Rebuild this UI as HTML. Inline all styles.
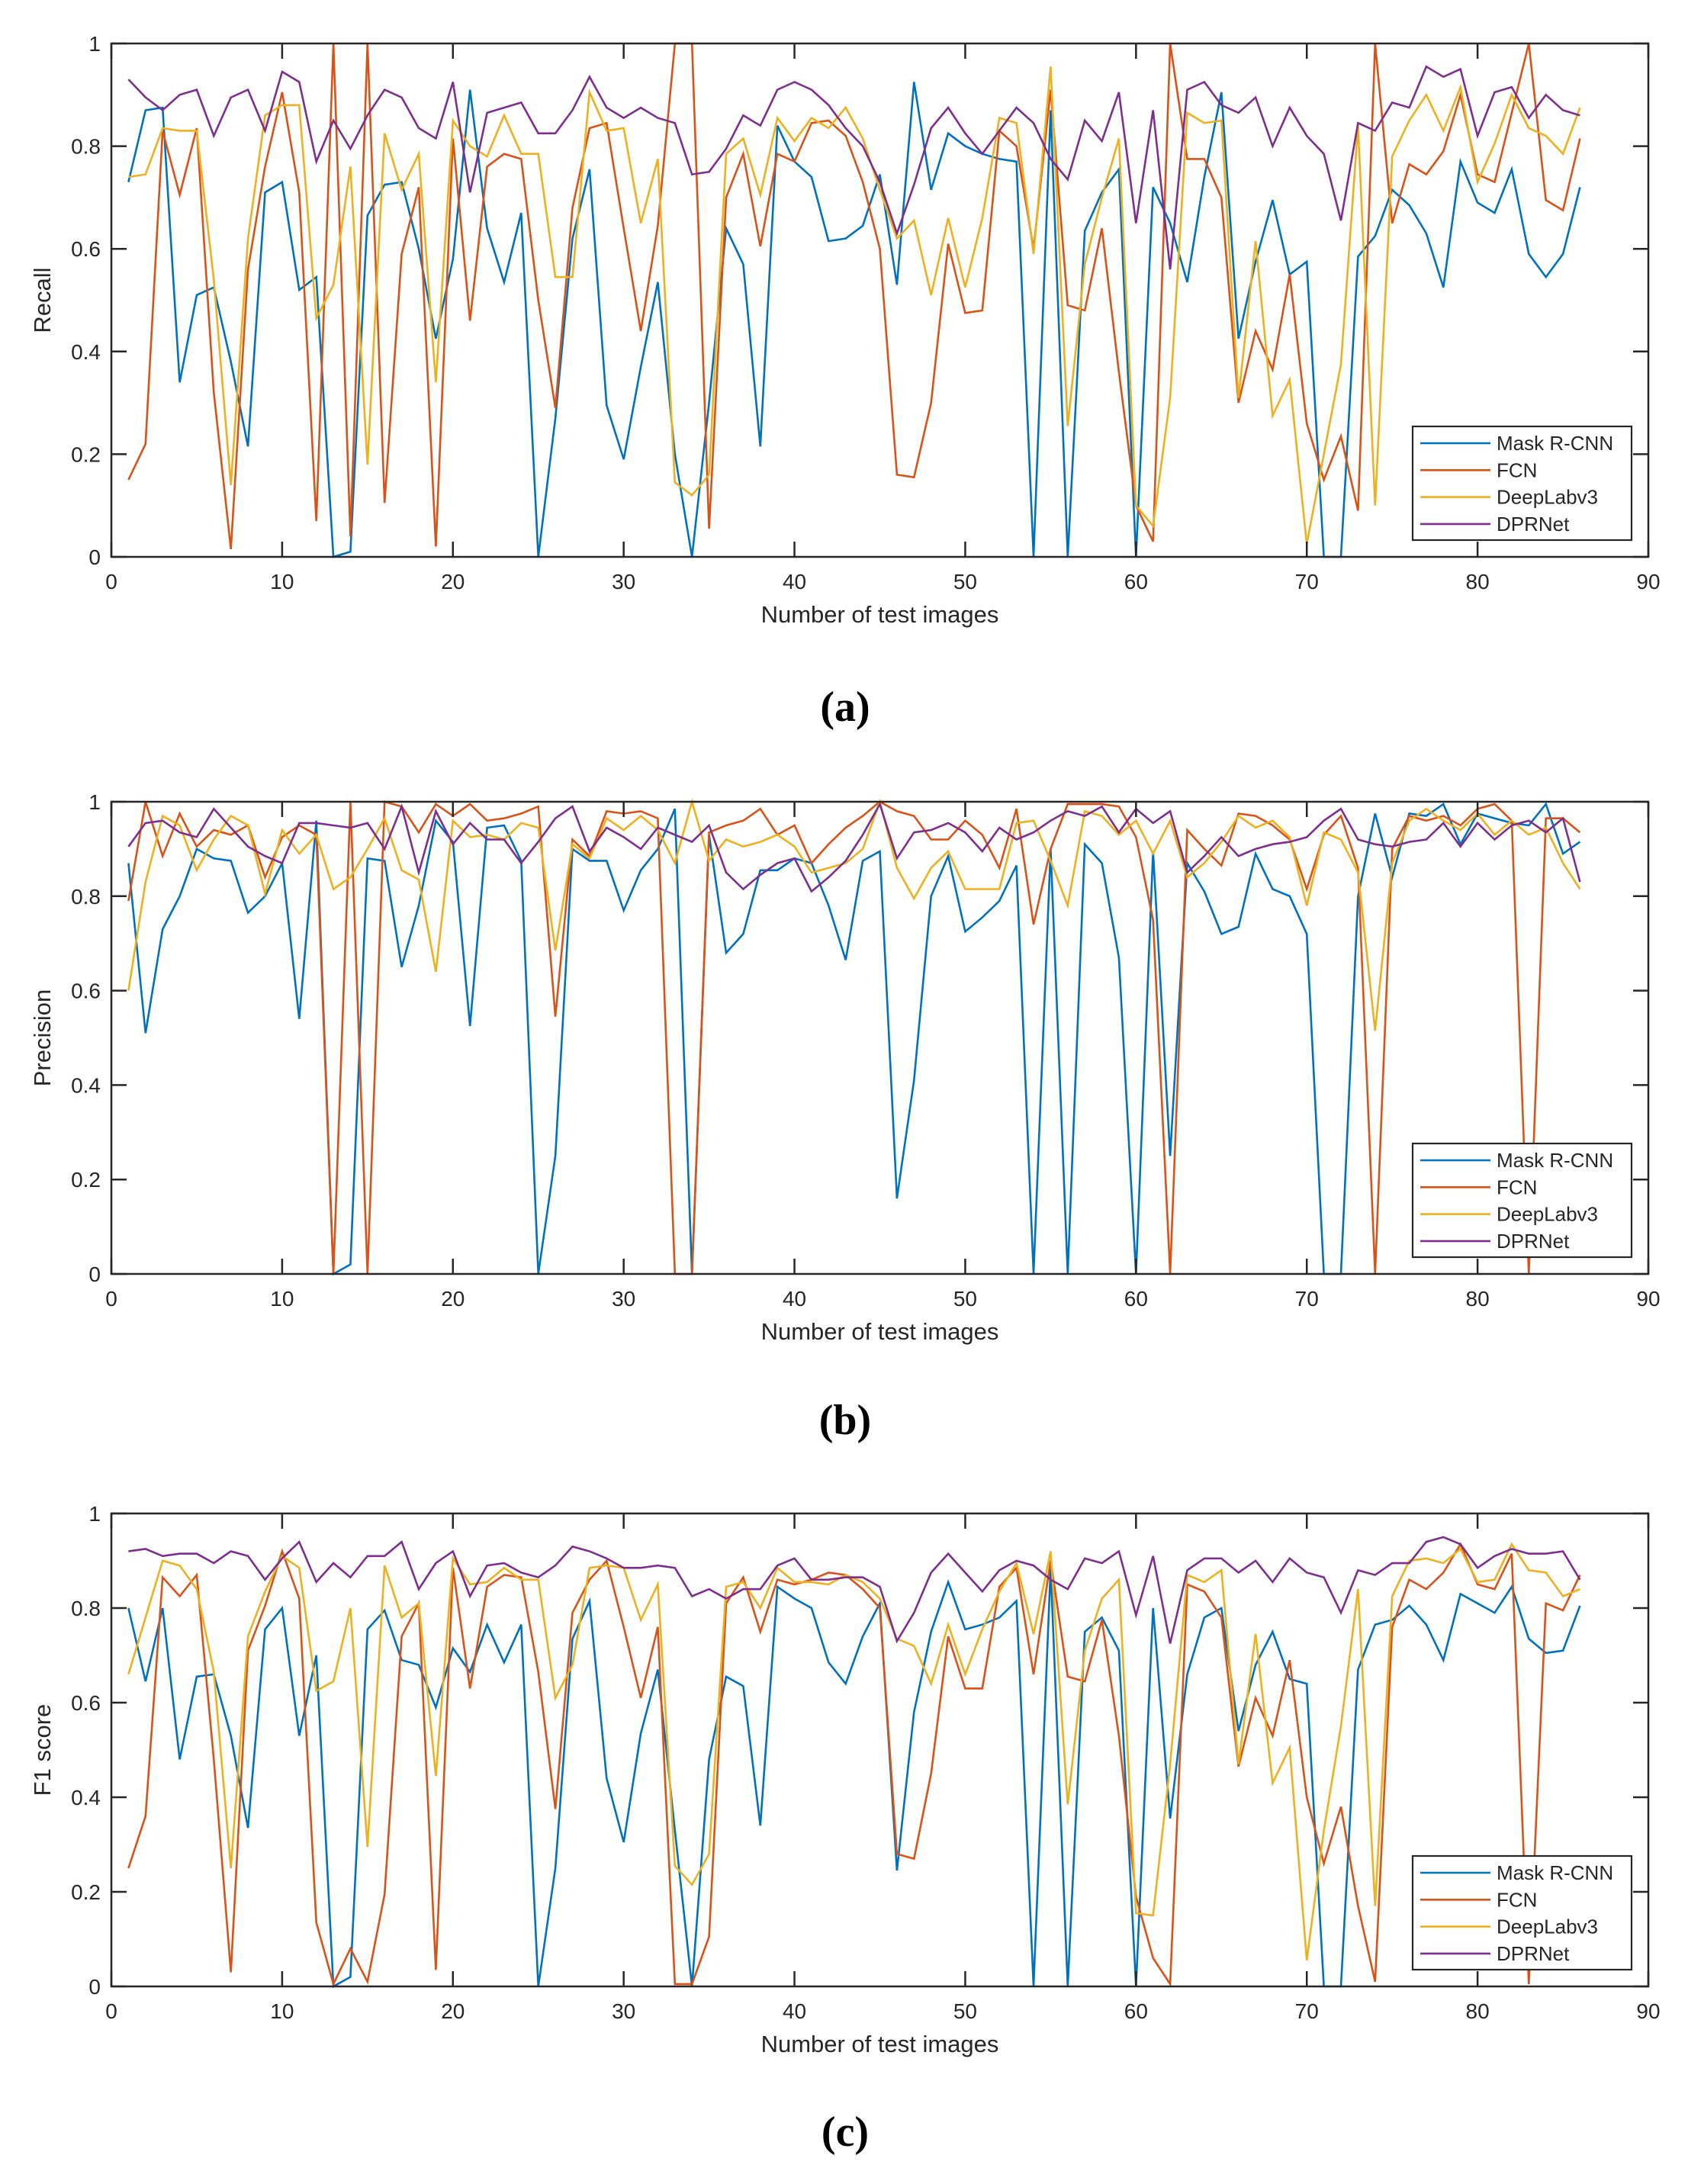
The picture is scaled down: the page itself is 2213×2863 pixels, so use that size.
<!DOCTYPE html>
<html><head><meta charset="utf-8"><style>
html,body{margin:0;padding:0;background:#fff;}
svg{display:block;}
text{font-family:"Liberation Sans",sans-serif;fill:#262626;}
</style></head><body>
<svg id="fig" width="2213" height="2863" viewBox="0 0 2213 2863" xmlns="http://www.w3.org/2000/svg"></svg>
<script>
const seriesNames = ["Mask R-CNN","FCN","DeepLabv3","DPRNet"];
const seriesColors = ["#0072BD","#D95319","#EDB120","#7E2F8E"];
const xTicks = [0,10,20,30,40,50,60,70,80,90];
const yTicks = [0,0.2,0.4,0.6,0.8,1];
const yTickLabels = ["0","0.2","0.4","0.6","0.8","1"];

const recallMask = [0.73,0.87,0.875,0.34,0.51,0.525,0.38,0.215,0.71,0.73,0.52,0.545,0.0,0.01,0.665,0.725,0.73,0.6,0.425,0.58,0.91,0.64,0.535,0.67,0.0,0.27,0.62,0.755,0.295,0.19,0.37,0.535,0.2,0.0,0.3,0.64,0.57,0.215,0.84,0.77,0.74,0.615,0.62,0.645,0.745,0.53,0.925,0.715,0.825,0.8,0.785,0.775,0.77,0.0,0.87,0.0,0.635,0.71,0.755,0.0,0.72,0.65,0.535,0.74,0.905,0.425,0.575,0.695,0.55,0.575,0.0,0.0,0.585,0.625,0.715,0.685,0.63,0.525,0.77,0.69,0.67,0.755,0.59,0.545,0.59,0.72];
const recallFCN = [0.15,0.22,0.83,0.705,0.835,0.32,0.015,0.56,0.76,0.905,0.71,0.07,1.0,0.04,1.0,0.105,0.59,0.72,0.02,0.815,0.46,0.76,0.785,0.775,0.5,0.29,0.68,0.835,0.845,0.64,0.44,0.645,1.0,1.0,0.055,0.7,0.785,0.605,0.785,0.77,0.845,0.85,0.82,0.73,0.6,0.16,0.155,0.3,0.61,0.475,0.48,0.83,0.8,0.6,0.91,0.49,0.48,0.64,0.36,0.1,0.03,1.0,0.775,0.775,0.7,0.3,0.44,0.365,0.55,0.26,0.15,0.235,0.09,1.0,0.65,0.765,0.745,0.79,0.9,0.745,0.73,0.865,1.0,0.695,0.675,0.815];
const recallDeepLab = [0.74,0.745,0.835,0.83,0.83,0.54,0.14,0.62,0.86,0.88,0.88,0.465,0.53,0.76,0.18,0.825,0.715,0.785,0.34,0.85,0.8,0.78,0.86,0.785,0.785,0.545,0.545,0.905,0.83,0.835,0.65,0.775,0.145,0.12,0.16,0.785,0.815,0.705,0.855,0.81,0.855,0.835,0.875,0.815,0.715,0.62,0.655,0.51,0.66,0.525,0.66,0.855,0.845,0.59,0.955,0.255,0.57,0.7,0.815,0.1,0.06,0.31,0.865,0.845,0.85,0.31,0.615,0.275,0.345,0.025,0.2,0.375,0.84,0.1,0.78,0.85,0.9,0.83,0.915,0.73,0.805,0.9,0.835,0.82,0.785,0.875];
const recallDPR = [0.93,0.895,0.87,0.9,0.91,0.82,0.895,0.91,0.83,0.945,0.925,0.77,0.85,0.795,0.86,0.91,0.895,0.835,0.815,0.925,0.71,0.865,0.875,0.885,0.825,0.825,0.87,0.935,0.875,0.855,0.875,0.855,0.845,0.745,0.75,0.795,0.86,0.84,0.91,0.925,0.91,0.88,0.835,0.8,0.73,0.63,0.725,0.835,0.875,0.825,0.785,0.83,0.875,0.845,0.775,0.735,0.85,0.81,0.905,0.65,0.87,0.56,0.91,0.925,0.88,0.865,0.895,0.8,0.875,0.82,0.785,0.655,0.845,0.83,0.885,0.875,0.955,0.935,0.95,0.82,0.905,0.915,0.855,0.9,0.87,0.86];

const precMask = [0.87,0.51,0.73,0.8,0.9,0.88,0.875,0.765,0.8,0.87,0.54,0.96,0.0,0.02,0.88,0.875,0.65,0.78,0.96,0.915,0.525,0.945,0.95,0.875,0.0,0.25,0.9,0.875,0.875,0.77,0.855,0.9,0.985,0.0,0.93,0.68,0.72,0.855,0.855,0.88,0.87,0.78,0.665,0.875,0.895,0.16,0.41,0.8,0.885,0.725,0.755,0.79,0.865,0.0,0.9,0.0,0.91,0.87,0.67,0.0,0.895,0.25,0.87,0.81,0.72,0.735,0.89,0.815,0.8,0.72,0.0,0.0,0.8,0.975,0.84,0.975,0.97,0.995,0.91,0.975,0.965,0.955,0.95,0.995,0.89,0.915];
const precFCN = [0.79,1.0,0.885,0.975,0.905,0.94,0.93,0.95,0.84,0.925,0.95,0.93,0.0,1.0,0.0,1.0,0.99,0.935,0.995,0.97,0.995,0.96,0.965,0.975,0.99,0.545,0.92,0.885,0.98,0.975,0.98,0.965,0.0,0.0,0.935,0.95,0.96,0.985,0.93,0.95,0.87,0.91,0.945,0.97,1.0,0.98,0.97,0.92,0.92,0.96,0.93,0.86,0.985,0.74,0.9,0.995,0.995,0.995,0.99,0.925,0.75,0.0,0.94,0.9,0.865,0.975,0.97,0.95,0.92,0.815,0.93,0.97,0.86,0.0,0.9,0.97,0.96,0.97,0.95,0.985,0.995,0.96,0.0,0.965,0.965,0.935];
const precDeepLab = [0.6,0.83,0.97,0.95,0.855,0.92,0.97,0.95,0.805,0.94,0.89,0.93,0.815,0.84,0.9,0.965,0.855,0.835,0.64,0.96,0.925,0.93,0.92,0.955,0.945,0.685,0.91,0.88,0.965,0.94,0.97,0.94,0.87,1.0,0.875,0.92,0.905,0.915,0.93,0.905,0.85,0.86,0.87,0.9,1.0,0.86,0.795,0.86,0.895,0.815,0.815,0.815,0.955,0.96,0.875,0.78,0.98,0.97,0.93,0.96,0.89,0.96,0.84,0.87,0.915,0.97,0.945,0.96,0.925,0.78,0.935,0.92,0.85,0.515,0.87,0.96,0.985,0.96,0.94,0.975,0.93,0.96,0.93,0.945,0.87,0.815];
const precDPR = [0.905,0.955,0.96,0.935,0.925,0.985,0.945,0.905,0.885,0.87,0.955,0.955,0.95,0.945,0.955,0.9,0.99,0.85,0.98,0.91,0.955,0.92,0.92,0.87,0.915,0.965,0.99,0.895,0.945,0.925,0.9,0.945,0.93,0.915,0.95,0.85,0.815,0.845,0.87,0.88,0.81,0.84,0.875,0.93,0.995,0.88,0.935,0.94,0.955,0.935,0.895,0.945,0.92,0.935,0.96,0.98,0.97,0.99,0.935,0.985,0.955,0.98,0.85,0.885,0.925,0.885,0.9,0.91,0.915,0.925,0.96,0.985,0.92,0.91,0.905,0.915,0.92,0.955,0.905,0.955,0.92,0.95,0.96,0.935,0.965,0.83];

const f1Mask = [0.8,0.645,0.8,0.48,0.655,0.66,0.53,0.335,0.755,0.8,0.53,0.7,0.0,0.02,0.755,0.795,0.69,0.68,0.59,0.715,0.665,0.765,0.685,0.765,0.0,0.25,0.735,0.815,0.44,0.305,0.535,0.67,0.33,0.0,0.48,0.655,0.635,0.34,0.845,0.82,0.8,0.685,0.64,0.74,0.81,0.245,0.58,0.75,0.855,0.755,0.765,0.78,0.815,0.0,0.885,0.0,0.75,0.78,0.71,0.0,0.8,0.355,0.66,0.78,0.8,0.54,0.68,0.75,0.65,0.64,0.0,0.0,0.67,0.765,0.775,0.805,0.765,0.69,0.83,0.81,0.79,0.845,0.735,0.705,0.71,0.805];
const f1FCN = [0.25,0.36,0.865,0.825,0.87,0.48,0.03,0.71,0.805,0.92,0.82,0.135,0.005,0.08,0.01,0.195,0.74,0.81,0.035,0.885,0.63,0.845,0.87,0.865,0.665,0.375,0.79,0.86,0.9,0.76,0.61,0.76,0.005,0.005,0.105,0.81,0.865,0.75,0.86,0.85,0.86,0.875,0.87,0.84,0.8,0.28,0.27,0.45,0.74,0.63,0.63,0.845,0.885,0.66,0.9,0.655,0.645,0.775,0.53,0.19,0.06,0.005,0.85,0.835,0.78,0.465,0.61,0.53,0.69,0.4,0.26,0.38,0.17,0.01,0.76,0.86,0.84,0.875,0.935,0.85,0.84,0.915,0.005,0.81,0.795,0.87];
const f1DeepLab = [0.66,0.78,0.9,0.89,0.84,0.665,0.25,0.74,0.835,0.91,0.885,0.625,0.645,0.8,0.295,0.89,0.78,0.81,0.445,0.905,0.85,0.855,0.885,0.86,0.86,0.61,0.68,0.885,0.89,0.885,0.775,0.85,0.255,0.215,0.28,0.845,0.855,0.8,0.885,0.855,0.855,0.85,0.87,0.855,0.82,0.735,0.72,0.64,0.765,0.66,0.755,0.835,0.895,0.745,0.92,0.385,0.71,0.82,0.86,0.155,0.15,0.47,0.87,0.855,0.88,0.47,0.745,0.43,0.505,0.055,0.33,0.55,0.84,0.17,0.825,0.9,0.905,0.895,0.925,0.855,0.86,0.935,0.88,0.875,0.825,0.84];
const f1DPR = [0.92,0.925,0.91,0.915,0.915,0.895,0.92,0.91,0.86,0.905,0.94,0.855,0.895,0.865,0.91,0.91,0.94,0.84,0.895,0.92,0.825,0.89,0.895,0.875,0.865,0.89,0.93,0.92,0.905,0.885,0.885,0.89,0.885,0.825,0.84,0.82,0.84,0.84,0.89,0.905,0.86,0.86,0.865,0.865,0.845,0.73,0.79,0.875,0.915,0.875,0.835,0.88,0.9,0.89,0.86,0.84,0.905,0.895,0.92,0.785,0.91,0.725,0.88,0.905,0.905,0.875,0.9,0.855,0.905,0.875,0.865,0.79,0.88,0.87,0.895,0.895,0.94,0.95,0.935,0.885,0.91,0.925,0.915,0.915,0.92,0.86];

const NS="http://www.w3.org/2000/svg";
const svg=document.getElementById('fig');
function mk(tag,attrs,parent){const e=document.createElementNS(NS,tag);for(const k in attrs)e.setAttribute(k,attrs[k]);(parent||svg).appendChild(e);return e;}

const X0=146,X1=2161;
const panels=[
 {key:"recall",title:"Recall",label:"(a)",top:57,bottom:730,data:[recallMask,recallFCN,recallDeepLab,recallDPR],labelY:945},
 {key:"precision",title:"Precision",label:"(b)",top:1051,bottom:1670,data:[precMask,precFCN,precDeepLab,precDPR],labelY:1880},
 {key:"f1",title:"F1 score",label:"(c)",top:1984,bottom:2604,data:[f1Mask,f1FCN,f1DeepLab,f1DPR],labelY:2813}
];

panels.forEach(p=>{
  const g=mk('g',{});
  
  
  const xs=v=>X0+(v/90)*(X1-X0);
  const ys=v=>p.bottom-v*(p.bottom-p.top);
  // series
  p.data.forEach((arr,si)=>{
    const pts=arr.map((v,i)=>xs(i+1).toFixed(1)+','+ys(v).toFixed(1)).join(' ');
    const pl=mk('polyline',{points:pts,fill:'none',stroke:seriesColors[si],'stroke-width':2.6,'stroke-linejoin':'miter'},g);
    
    
  });
  // axes box
  const box=mk('rect',{x:X0,y:p.top,width:X1-X0,height:p.bottom-p.top,fill:'none',stroke:'#262626','stroke-width':2.5},g);
  
  
  // x ticks
  xTicks.forEach(t=>{
    const x=xs(t);
    mk('line',{x1:x,y1:p.bottom,x2:x,y2:p.bottom-20,stroke:'#262626','stroke-width':2.5},g);
    mk('line',{x1:x,y1:p.top,x2:x,y2:p.top+20,stroke:'#262626','stroke-width':2.5},g);
    const tx=mk('text',{x:x,y:p.bottom+42,'font-size':28,'text-anchor':'middle'},g);
    tx.textContent=String(t);
    
    
  });
  yTicks.forEach((t,i)=>{
    const y=ys(t);
    mk('line',{x1:X0,y1:y,x2:X0+20,y2:y,stroke:'#262626','stroke-width':2.5},g);
    mk('line',{x1:X1,y1:y,x2:X1-20,y2:y,stroke:'#262626','stroke-width':2.5},g);
    const ty=mk('text',{x:X0-14,y:y+10,'font-size':28,'text-anchor':'end'},g);
    ty.textContent=yTickLabels[i];
    
    
  });
  const xt=mk('text',{x:(X0+X1)/2,y:p.bottom+86,'font-size':31,'text-anchor':'middle'},g);
  xt.textContent='Number of test images';
  
  
  const cy=(p.top+p.bottom)/2;
  const yt=mk('text',{x:66,y:cy,'font-size':31,'text-anchor':'middle',transform:'rotate(-90 66 '+cy+')'},g);
  yt.textContent=p.title;
  
  
  // legend
  const lg=mk('g',{},g);
  
  
  const lTop=p.bottom-171, lx=1852;
  mk('rect',{x:lx,y:lTop,width:287,height:149,fill:'#fff',stroke:'#262626','stroke-width':2.2},lg);
  seriesNames.forEach((n,si)=>{
    const yy=lTop+22+si*35.3;
    const ln=mk('line',{x1:lx+10,y1:yy,x2:lx+102,y2:yy,stroke:seriesColors[si],'stroke-width':2.6},lg);
    
    
    const lt=mk('text',{x:lx+110,y:yy+9,'font-size':26,fill:'#000'},lg);
    lt.textContent=n;
    
    
  });
  const pl=mk('text',{x:1108,y:p.labelY,'font-size':56,'font-weight':'bold','text-anchor':'middle',style:'font-family:"Liberation Serif",serif;fill:#000'});
  pl.textContent=p.label;
  
  
});
</script>
</body></html>
